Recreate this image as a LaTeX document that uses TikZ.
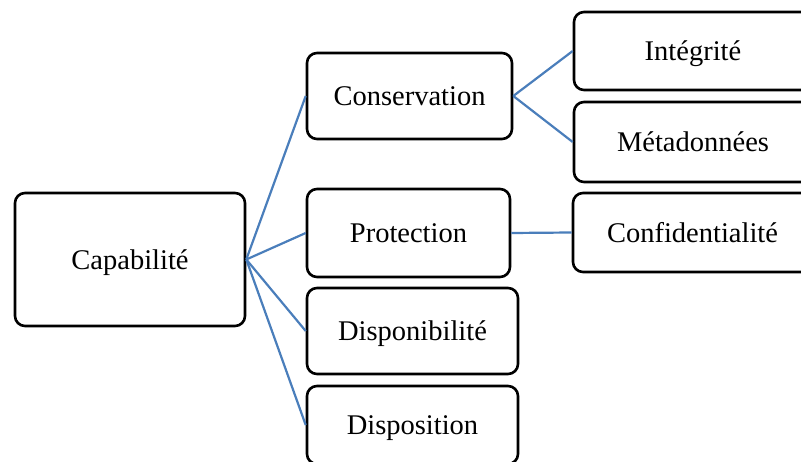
\documentclass[tikz,border=0pt]{standalone}
\usepackage{fontspec}
\setmainfont{Liberation Serif}
\begin{document}
\begin{tikzpicture}[x=1pt,y=-1pt,
  box/.style={draw=black, line width=2.6pt, rounded corners=10pt, fill=white,
    rectangle, inner sep=0pt, text height=25.4pt, text depth=6.2pt,
    font=\fontsize{28.5}{34}\selectfont},
  link/.style={draw={rgb,255:red,74;green,126;blue,187}, line width=2.2pt}]
\useasboundingbox[fill=white] (0,0) rectangle (801,462);
\node[box, minimum width=230pt, minimum height=133pt] (cap) at (130,259.5) {Capabilité};
\node[box, minimum width=205pt, minimum height=86pt] (cons) at (409.5,96) {Conservation};
\node[box, minimum width=203pt, minimum height=88pt] (prot) at (408.5,233) {Protection};
\node[box, minimum width=211pt, minimum height=86pt] (dispo) at (412.5,331) {Disponibilité};
\node[box, minimum width=211pt, minimum height=78pt] (dispos) at (412.5,425) {Disposition};
\node[box, minimum width=238pt, minimum height=78pt] (integ) at (693,51) {Intégrité};
\node[box, minimum width=238pt, minimum height=80pt] (meta) at (693,142) {Métadonnées};
\node[box, minimum width=239pt, minimum height=79pt] (conf) at (692.5,232.5) {Confidentialité};
\draw[link] (cap.east) -- (cons.west);
\draw[link] (cap.east) -- (prot.west);
\draw[link] (cap.east) -- (dispo.west);
\draw[link] (cap.east) -- (dispos.west);
\draw[link] (cons.east) -- (integ.west);
\draw[link] (cons.east) -- (meta.west);
\draw[link] (prot.east) -- (conf.west);
\end{tikzpicture}
\end{document}
